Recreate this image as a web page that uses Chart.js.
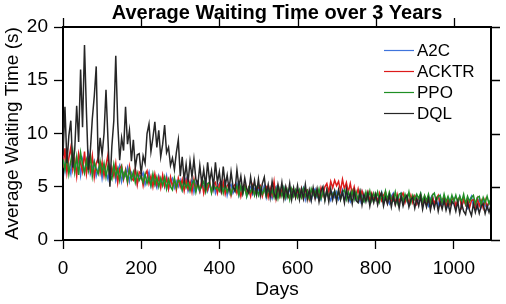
<!DOCTYPE html>
<html>
<head>
<meta charset="utf-8">
<title>Average Waiting Time over 3 Years</title>
<script src="https://cdn.jsdelivr.net/npm/chart.js@4"></script>
<style>
  html, body { margin: 0; padding: 0; background: #fff; }
  #chart { display: block; }
</style>
</head>
<body>
<canvas id="chart" width="506" height="304"></canvas>
<script>
// one sample every 5 days, 0 .. 1095
const dayStep = 5;
const xTicks = [0, 200, 400, 600, 800, 1000];
const yTicks = [0, 5, 10, 15, 20];
const seriesNames = ['A2C', 'ACKTR', 'PPO', 'DQL'];

const a2c = [
  7.9, 6.5, 8.2, 7.0, 6.2, 8.0, 6.8, 6.6, 7.8, 6.1, 7.5, 6.4, 7.2, 8.1, 6.2, 6.8, 7.4, 6.0, 6.7, 7.1,
  5.8, 7.0, 6.4, 5.7, 6.9, 6.1, 6.7, 5.6, 6.5, 7.0, 5.5, 6.3, 6.0, 6.8, 5.5, 6.3, 5.8, 6.6, 5.3, 6.1,
  5.9, 6.3, 5.2, 5.8, 6.4, 5.1, 5.9, 5.4, 4.9, 6.0, 5.3, 5.8, 5.0, 6.0, 4.8, 5.5, 5.8, 4.9, 5.5, 5.0,
  5.6, 4.7, 5.4, 5.8, 4.6, 5.2, 5.6, 4.5, 5.4, 5.0, 4.5, 5.4, 4.9, 5.6, 4.6, 5.2, 4.7, 5.4, 4.4, 5.0,
  5.3, 4.5, 4.9, 5.4, 4.2, 5.0, 5.2, 4.4, 4.8, 5.3, 4.2, 4.9, 4.5, 5.1, 4.1, 4.8, 5.0, 4.3, 4.8, 4.3,
  4.9, 4.2, 4.6, 5.1, 4.0, 4.8, 4.4, 3.9, 4.7, 5.0, 4.1, 4.6, 4.3, 4.9, 3.9, 4.5, 4.7, 4.0, 4.5, 4.2,
  4.7, 4.0, 4.4, 4.9, 3.8, 4.6, 4.2, 3.7, 4.5, 4.8, 4.0, 4.3, 3.8, 4.7, 3.9, 4.5, 4.1, 3.7, 4.4, 4.0,
  4.5, 3.8, 4.2, 4.7, 3.7, 4.4, 4.0, 3.6, 4.3, 4.6, 3.8, 4.1, 3.6, 4.5, 3.7, 4.3, 3.9, 3.5, 4.2, 3.8,
  4.3, 3.6, 4.0, 4.5, 3.5, 4.2, 3.8, 3.4, 4.1, 4.4, 3.6, 3.9, 3.4, 4.3, 3.5, 4.1, 3.7, 3.3, 4.0, 3.6,
  4.1, 3.4, 3.8, 4.3, 3.3, 4.0, 3.6, 3.2, 3.9, 4.2, 3.4, 3.7, 3.2, 4.1, 3.3, 3.9, 3.5, 3.1, 3.8, 3.4,
  3.9, 3.2, 3.6, 4.1, 3.1, 3.8, 3.4, 3.0, 3.7, 4.1, 3.2, 3.5, 3.0, 3.9, 3.1, 3.7, 3.3, 2.9, 3.6, 3.2
];

const acktr = [
  6.8, 8.6, 6.3, 7.7, 8.7, 6.6, 7.6, 6.0, 8.1, 7.2, 6.4, 8.3, 6.2, 7.5, 6.5, 7.9, 5.9, 7.2, 7.7, 6.3,
  7.3, 6.0, 7.0, 8.0, 5.7, 6.8, 6.0, 7.2, 5.4, 6.7, 7.0, 5.7, 6.6, 5.4, 6.9, 5.8, 5.6, 6.7, 5.2, 6.4,
  6.2, 5.1, 6.1, 6.5, 5.3, 6.0, 5.0, 6.2, 5.2, 5.9, 4.9, 6.1, 5.1, 5.8, 4.8, 5.9, 5.0, 5.7, 4.7, 5.8,
  5.0, 5.7, 4.6, 5.6, 4.8, 5.5, 4.5, 5.7, 4.7, 5.4, 4.6, 5.6, 4.4, 5.3, 4.7, 5.5, 4.5, 5.2, 5.4, 4.4,
  5.2, 4.5, 5.4, 4.3, 5.1, 5.3, 4.2, 5.0, 5.2, 4.4, 5.1, 4.1, 5.0, 5.2, 4.3, 4.9, 4.1, 5.1, 4.3, 4.7,
  4.9, 5.1, 4.1, 4.8, 5.0, 4.0, 4.9, 4.2, 5.5, 3.9, 5.0, 4.1, 4.7, 4.0, 4.9, 4.1, 3.9, 4.8, 4.7, 4.0,
  4.7, 4.0, 4.8, 3.9, 4.6, 4.7, 3.8, 4.6, 4.8, 4.0, 4.7, 3.9, 4.9, 4.2, 5.0, 5.3, 4.5, 5.5, 4.9, 5.6,
  5.1, 5.5, 4.6, 5.7, 4.8, 5.4, 4.5, 5.3, 4.3, 5.0, 4.1, 4.8, 3.9, 4.6, 4.0, 3.8, 4.5, 3.7, 4.4, 3.8,
  4.3, 3.6, 4.4, 3.7, 4.2, 4.5, 3.5, 4.3, 3.7, 4.2, 3.4, 4.3, 3.6, 4.1, 4.4, 3.5, 4.1, 3.4, 4.2, 3.5,
  4.1, 3.4, 4.0, 4.2, 3.3, 4.1, 3.5, 4.0, 3.2, 4.1, 3.4, 3.9, 4.2, 3.3, 3.8, 4.0, 3.2, 3.9, 3.3, 3.8,
  3.9, 3.2, 3.8, 4.0, 3.1, 3.8, 3.3, 3.9, 3.0, 3.7, 3.8, 3.1, 3.9, 3.2, 3.7, 3.0, 3.8, 3.1, 3.6, 3.7
];

const ppo = [
  7.6, 6.6, 8.0, 6.2, 7.4, 8.4, 6.4, 7.8, 6.1, 8.2, 7.1, 6.3, 7.5, 6.5, 7.9, 6.0, 7.3, 6.7, 6.2, 7.4,
  6.3, 7.2, 5.9, 7.0, 6.1, 5.7, 7.1, 6.0, 6.7, 5.6, 6.8, 5.8, 6.5, 5.5, 6.6, 5.7, 6.4, 5.4, 6.3, 5.6,
  6.0, 5.4, 6.2, 5.3, 5.9, 5.1, 6.2, 5.2, 5.9, 5.0, 5.8, 5.1, 5.9, 4.8, 5.7, 5.0, 4.7, 5.8, 4.9, 5.6,
  5.5, 4.7, 5.6, 4.9, 5.4, 4.6, 5.3, 5.6, 4.5, 5.4, 4.7, 5.1, 5.5, 4.5, 5.3, 5.4, 4.4, 5.2, 4.8, 5.0,
  4.6, 5.3, 4.4, 5.2, 4.5, 5.1, 4.3, 5.0, 4.6, 5.1, 4.2, 5.1, 4.3, 5.0, 4.1, 4.9, 4.5, 5.0, 4.2, 4.9,
  4.2, 4.9, 4.3, 4.8, 4.1, 4.9, 4.2, 4.7, 4.0, 4.8, 3.9, 4.8, 4.1, 4.9, 4.0, 4.7, 3.8, 4.8, 4.1, 4.7,
  4.0, 4.7, 4.0, 4.8, 4.1, 4.6, 3.9, 4.8, 4.2, 4.6, 4.1, 4.8, 3.9, 4.6, 3.8, 4.7, 4.0, 4.5, 4.2, 4.6,
  3.9, 4.6, 3.8, 4.5, 4.7, 3.8, 4.5, 3.9, 4.6, 3.8, 4.5, 3.7, 4.6, 3.9, 3.6, 4.5, 3.8, 4.6, 3.7, 4.4,
  3.8, 4.5, 3.6, 4.4, 3.7, 4.6, 3.8, 4.5, 3.9, 3.7, 4.5, 3.5, 4.3, 4.4, 3.6, 4.3, 3.7, 4.5, 3.5, 4.2,
  3.8, 4.3, 3.9, 4.4, 3.6, 4.2, 3.7, 4.3, 3.5, 4.2, 4.4, 3.6, 4.1, 4.2, 3.5, 4.3, 3.6, 4.1, 3.5, 4.2,
  3.6, 4.2, 3.5, 4.1, 3.6, 4.3, 3.4, 4.1, 3.6, 4.0, 4.2, 3.4, 4.0, 4.1, 3.3, 4.0, 3.5, 4.1, 3.4, 3.9
];

const dql = [
  8.0, 12.5, 7.2, 9.8, 11.2, 6.8, 8.5, 12.6, 9.2, 16.0, 10.6, 18.3, 12.0, 6.6, 8.4, 11.4, 13.5, 16.3, 7.2, 9.6,
  8.0, 10.0, 14.1, 9.5, 5.0, 8.8, 11.2, 17.3, 11.0, 7.5, 9.6, 8.4, 12.5, 9.0, 10.3, 7.4, 9.4, 6.8, 8.0, 8.1,
  6.2, 7.9, 7.2, 10.0, 10.9, 8.3, 9.6, 11.1, 8.7, 10.3, 7.8, 9.0, 10.8, 8.2, 8.7, 7.0, 7.7, 6.6, 8.2, 9.4,
  6.0, 7.8, 5.6, 7.1, 5.4, 7.4, 5.9, 7.6, 5.7, 5.2, 7.0, 5.3, 6.6, 5.1, 7.3, 5.5, 6.5, 5.0, 7.3, 5.4,
  6.4, 4.8, 6.9, 5.1, 6.1, 4.7, 6.4, 5.0, 4.6, 6.6, 5.0, 6.0, 4.5, 5.8, 4.8, 4.4, 5.9, 4.6, 5.6, 4.3,
  5.7, 4.2, 5.3, 5.9, 4.3, 5.2, 4.0, 5.5, 4.4, 3.9, 5.2, 4.2, 5.4, 3.9, 5.0, 4.1, 5.3, 3.8, 4.9, 4.0,
  5.1, 3.8, 4.8, 3.9, 5.2, 3.8, 4.7, 3.7, 4.9, 3.9, 4.8, 3.6, 4.6, 5.0, 3.7, 4.7, 3.6, 4.8, 3.8, 4.6,
  3.6, 4.7, 3.8, 4.5, 3.5, 4.8, 3.7, 4.4, 3.4, 4.6, 3.7, 3.5, 4.5, 3.3, 4.3, 3.6, 4.4, 3.2, 4.2, 3.5,
  4.3, 3.3, 4.1, 4.4, 3.2, 4.0, 3.4, 4.2, 3.1, 4.1, 3.3, 4.0, 3.0, 4.1, 3.2, 3.9, 4.2, 3.1, 3.8, 4.0,
  3.0, 3.9, 3.2, 4.1, 2.9, 3.8, 3.1, 3.9, 2.8, 3.7, 3.0, 3.8, 2.7, 3.6, 2.9, 3.7, 2.8, 3.5, 2.6, 3.6,
  3.4, 2.7, 3.6, 2.5, 3.4, 2.7, 2.4, 3.5, 2.8, 2.3, 3.4, 2.6, 3.3, 2.5, 3.2, 3.4, 2.5, 3.2, 2.6, 3.3
];

const seriesValues = [a2c, acktr, ppo, dql];
const seriesColors = ['#3f74dc', '#dd1a1a', '#1f8f24', '#262626'];
// DQL on top, A2C at the bottom
const drawOrder = [4, 3, 2, 1];

const fontFamily = "'Liberation Sans', Arial, Helvetica, sans-serif";

function toPoints(values) {
  return values.map((v, i) => ({ x: i * dayStep, y: v }));
}

// box on top/right with outward ticks, like the left/bottom axes
const boxPlugin = {
  id: 'box',
  afterDatasetsDraw(chart) {
    const { ctx, chartArea, scales } = chart;
    const { left, right, top, bottom } = chartArea;
    ctx.save();
    ctx.strokeStyle = '#000';
    ctx.lineWidth = 2;
    ctx.beginPath();
    ctx.moveTo(left - 1, top);
    ctx.lineTo(right, top);
    ctx.lineTo(right, bottom + 1);
    ctx.stroke();
    ctx.lineWidth = 1.3;
    ctx.beginPath();
    xTicks.forEach(t => {
      const x = Math.round(scales.x.getPixelForValue(t)) + 0.5;
      ctx.moveTo(x, top);
      ctx.lineTo(x, top - 9);
    });
    yTicks.forEach(t => {
      const y = Math.round(scales.y.getPixelForValue(t)) + 0.5;
      ctx.moveTo(right, y);
      ctx.lineTo(right + 9, y);
    });
    ctx.stroke();
    ctx.restore();
  }
};

// legend inside the plot, top right
const legendPlugin = {
  id: 'innerLegend',
  afterDraw(chart) {
    const { ctx, chartArea } = chart;
    const x0 = chartArea.right - 107;
    const y0 = chartArea.top + 23;
    ctx.save();
    ctx.font = '17px ' + fontFamily;
    ctx.textBaseline = 'middle';
    ctx.textAlign = 'left';
    chart.data.datasets.forEach((ds, i) => {
      const y = Math.round(y0 + i * 21) + 0.5;
      ctx.strokeStyle = ds.borderColor;
      ctx.lineWidth = 1.2;
      ctx.beginPath();
      ctx.moveTo(x0, y);
      ctx.lineTo(x0 + 30, y);
      ctx.stroke();
      ctx.fillStyle = '#000';
      ctx.fillText(ds.label, x0 + 33, y + 1);
    });
    ctx.restore();
  }
};

const tickFont = { family: fontFamily, size: 19 };
const titleFont = { family: fontFamily, size: 19 };

new Chart(document.getElementById('chart'), {
  type: 'line',
  data: {
    datasets: seriesNames.map((name, i) => ({
      label: name,
      data: toPoints(seriesValues[i]),
      borderColor: seriesColors[i],
      backgroundColor: seriesColors[i],
      borderWidth: 1.5,
      pointRadius: 0,
      tension: 0,
      order: drawOrder[i]
    }))
  },
  options: {
    responsive: false,
    animation: false,
    layout: { padding: { left: 0, right: 15, top: 0, bottom: 0 } },
    plugins: {
      legend: { display: false },
      tooltip: { enabled: false },
      title: {
        display: true,
        text: 'Average Waiting Time over 3 Years',
        fullSize: false,
        color: '#000',
        font: { family: fontFamily, size: 20, weight: 'bold' },
        padding: { top: 1, bottom: 2 }
      }
    },
    scales: {
      x: {
        type: 'linear',
        min: 0,
        max: 1095,
        afterFit: s => { s.height = 64; },
        ticks: {
          stepSize: 200,
          includeBounds: false,
          maxRotation: 0,
          autoSkip: false,
          color: '#000',
          font: tickFont,
          padding: 8,
          callback: v => String(v)
        },
        grid: { drawOnChartArea: false, drawTicks: true, tickLength: 9, tickColor: '#000', tickWidth: 1.3 },
        border: { display: true, color: '#000', width: 2 },
        title: { display: true, text: 'Days', color: '#000', font: titleFont, padding: { top: 0, bottom: 3 } }
      },
      y: {
        min: 0,
        max: 20,
        afterFit: s => { s.width = 63; },
        ticks: {
          stepSize: 5,
          color: '#000',
          font: tickFont,
          padding: 6,
          callback: v => String(v)
        },
        grid: { drawOnChartArea: false, drawTicks: true, tickLength: 9, tickColor: '#000', tickWidth: 1.3 },
        border: { display: true, color: '#000', width: 2 },
        title: { display: true, text: 'Average Waiting Time (s)', color: '#000', font: titleFont, padding: { top: 1, bottom: 0 } }
      }
    }
  },
  plugins: [boxPlugin, legendPlugin]
});
</script>
</body>
</html>
